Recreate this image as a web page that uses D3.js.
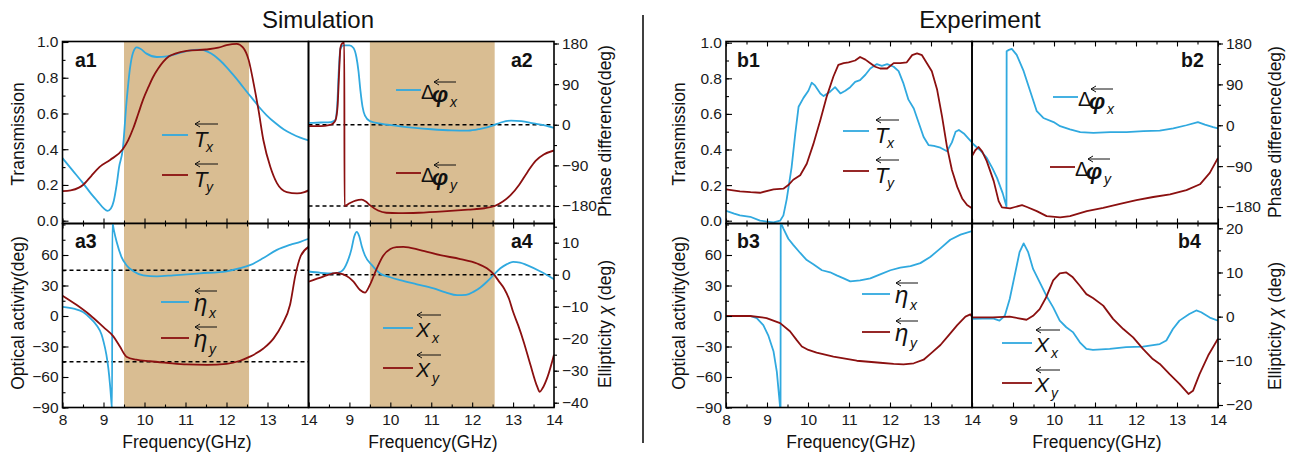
<!DOCTYPE html>
<html><head><meta charset="utf-8">
<script src="https://cdn.jsdelivr.net/npm/d3@7"></script>
<style>
body{margin:0;background:#fff}
svg{display:block}
text{font-family:Arial,"Liberation Sans",sans-serif}
</style>
</head><body>
<svg id="chart" width="1295" height="455"></svg>
<script>
// ---------------- DATA ----------------
const freqDomain = [8, 14];
const freqTicksLeft = [8, 9, 10, 11, 12, 13, 14];
const freqTicksRight = [9, 10, 11, 12, 13, 14];
const shadeBand = [9.5, 12.55];

const transTicks = [0, 0.2, 0.4, 0.6, 0.8, 1.0];
const phaseTicks = [-180, -90, 0, 90, 180];
const activityTicks = [-90, -60, -30, 0, 30, 60];
const ellipSimTicks = [-40, -30, -20, -10, 0, 10];
const ellipExpTicks = [-20, -10, 0, 10, 20];

const phaseRefLines = [0, -180];
const activityRefLines = [45, -45];
const ellipRefLines = [0];

// Simulation a1 : transmission
const a1Tx = [[8,0.35],[8.25,0.28],[8.5,0.21],[8.7,0.15],[8.85,0.11],[9.0,0.07],[9.1,0.055],[9.18,0.068],[9.25,0.11],[9.32,0.2],[9.38,0.3],[9.47,0.40],[9.56,0.66],[9.65,0.86],[9.72,0.94],[9.81,0.97],[9.9,0.962],[10.05,0.935],[10.3,0.916],[10.55,0.92],[10.8,0.935],[11.05,0.95],[11.35,0.957],[11.55,0.945],[11.7,0.925],[11.85,0.895],[12.0,0.86],[12.15,0.82],[12.33,0.77],[12.5,0.72],[12.66,0.675],[12.8,0.635],[12.98,0.59],[13.2,0.545],[13.4,0.51],[13.6,0.485],[13.8,0.465],[14,0.45]];
const a1Ty = [[8,0.166],[8.2,0.17],[8.4,0.185],[8.5,0.2],[8.7,0.25],[8.9,0.3],[9.16,0.34],[9.47,0.40],[9.6,0.45],[9.73,0.52],[9.85,0.6],[9.97,0.68],[10.1,0.75],[10.2,0.8],[10.33,0.85],[10.46,0.89],[10.6,0.92],[10.75,0.935],[11.03,0.95],[11.5,0.958],[11.8,0.968],[12.0,0.982],[12.25,0.99],[12.4,0.97],[12.54,0.90],[12.66,0.77],[12.78,0.62],[12.9,0.45],[13.07,0.30],[13.23,0.21],[13.47,0.16],[13.72,0.153],[13.9,0.16],[14,0.17]];

// Simulation a2 : phase difference
const a2Px = [[8,4],[8.3,5],[8.55,6],[8.65,10],[8.7,40],[8.74,120],[8.78,168],[8.85,176],[9.0,176],[9.1,170],[9.17,150],[9.22,120],[9.27,75],[9.32,40],[9.38,20],[9.5,8],[9.8,2],[10.2,-3],[10.6,-7],[11.0,-10],[11.5,-12.5],[11.9,-13],[12.2,-9],[12.5,-2],[12.7,5],[12.95,9],[13.2,8],[13.5,3],[13.8,-2],[14,-7]];
const a2Py = [[8,-3],[8.3,-3],[8.5,-1],[8.6,3],[8.66,10],[8.71,40],[8.75,120],[8.78,170],[8.82,180],[8.875,182],[8.88,-180],[9.0,-174],[9.15,-168],[9.3,-166],[9.4,-170],[9.5,-178],[9.7,-190],[9.9,-195],[10.2,-196],[10.7,-195],[11.3,-192],[11.9,-188],[12.3,-185],[12.55,-180],[12.75,-170],[12.95,-155],[13.15,-133],[13.35,-105],[13.55,-80],[13.75,-66],[14,-57]];

// Simulation a3 : optical activity
const a3Ex = [[8,9],[8.3,7],[8.5,4],[8.7,-3],[8.83,-9],[8.95,-18],[9.0,-25],[9.07,-38],[9.12,-52],[9.16,-68],[9.2,-88],[9.21,-92],[9.215,92],[9.25,85],[9.32,73],[9.44,58],[9.56,50],[9.73,44],[9.97,40],[10.3,39],[10.7,40],[11.35,42],[12.0,44],[12.33,47],[12.57,50],[12.9,57],[13.23,65],[13.55,70],[13.8,73],[14,76]];
const a3Ey = [[8,20],[8.34,11],[8.67,1],[9.0,-11],[9.24,-20],[9.4,-30],[9.56,-40],[9.8,-43],[10.13,-44.5],[10.54,-46],[11.03,-47.6],[11.52,-48],[12.0,-47],[12.33,-44],[12.57,-40],[12.9,-32],[13.15,-22],[13.35,-9],[13.55,11],[13.68,40],[13.8,58],[14,68]];

// Simulation a4 : ellipticity
const a4Xx = [[8,1],[8.3,0.6],[8.6,0.4],[8.8,1],[8.95,4],[9.05,8],[9.12,12],[9.18,13.4],[9.24,12],[9.3,9],[9.38,6],[9.55,3],[9.75,0.4],[10.0,-0.8],[10.24,-1.7],[10.65,-3],[11.06,-4.3],[11.35,-5.5],[11.63,-6.4],[11.85,-6.3],[12.04,-5.3],[12.2,-4],[12.36,-2.2],[12.53,0],[12.69,2],[12.85,3.3],[13.0,4],[13.17,3.8],[13.34,3],[13.67,1],[14,-1.4]];
const a4Xy = [[8,-2.2],[8.36,-0.6],[8.69,0.6],[8.85,0.1],[9.0,-1],[9.1,-2.2],[9.26,-4.8],[9.38,-5.6],[9.5,-3.2],[9.67,2],[9.83,6],[10.0,8],[10.15,8.6],[10.32,8.7],[10.73,7.7],[11.22,6.1],[11.71,4.9],[12.12,3.5],[12.36,2],[12.53,0.1],[12.65,-2],[12.78,-4.3],[12.9,-7.5],[13.0,-11.6],[13.13,-16],[13.26,-21],[13.42,-28],[13.59,-35],[13.65,-36.6],[13.72,-35.5],[13.84,-32],[14,-25]];

// Experiment b1 : transmission
const b1Tx = [[8.0,0.056],[8.2,0.04],[8.34,0.03],[8.59,0.022],[8.83,0.0],[9.0,-0.005],[9.16,-0.01],[9.32,0.0],[9.4,0.03],[9.48,0.12],[9.6,0.30],[9.69,0.49],[9.77,0.64],[9.89,0.69],[10.01,0.73],[10.09,0.775],[10.17,0.76],[10.3,0.715],[10.38,0.70],[10.54,0.725],[10.66,0.75],[10.79,0.715],[10.91,0.73],[11.03,0.75],[11.15,0.78],[11.27,0.79],[11.4,0.82],[11.52,0.855],[11.68,0.88],[11.8,0.87],[11.93,0.88],[12.09,0.865],[12.21,0.84],[12.33,0.77],[12.45,0.68],[12.58,0.63],[12.7,0.55],[12.82,0.47],[12.94,0.425],[13.07,0.42],[13.23,0.41],[13.39,0.39],[13.51,0.44],[13.6,0.5],[13.68,0.51],[13.8,0.49],[13.92,0.46],[14.0,0.44]];
const b1Ty = [[8.0,0.176],[8.34,0.165],[8.6,0.16],[8.83,0.157],[9.16,0.176],[9.4,0.18],[9.52,0.2],[9.64,0.23],[9.81,0.255],[9.97,0.32],[10.13,0.43],[10.3,0.565],[10.46,0.70],[10.62,0.81],[10.74,0.875],[10.87,0.885],[10.99,0.89],[11.15,0.90],[11.27,0.92],[11.4,0.905],[11.52,0.885],[11.64,0.865],[11.76,0.855],[11.93,0.855],[12.09,0.885],[12.25,0.885],[12.41,0.89],[12.54,0.93],[12.66,0.94],[12.78,0.93],[12.9,0.885],[13.02,0.84],[13.15,0.735],[13.27,0.585],[13.39,0.415],[13.51,0.285],[13.64,0.19],[13.76,0.125],[13.88,0.088],[14.0,0.07]];

// Experiment b2 : phase difference
const b2Px = [[8,-39],[8.2,-55],[8.36,-72],[8.5,-95],[8.61,-116],[8.75,-150],[8.84,-179],[8.845,163],[8.9,166],[8.97,168],[9.09,155],[9.26,119],[9.42,75],[9.58,31],[9.74,16],[9.99,7],[10.15,-2],[10.39,-9],[10.64,-15],[10.96,-17],[11.37,-15],[11.77,-15],[12.18,-13],[12.58,-12],[12.91,-7],[13.23,0],[13.51,7],[13.68,1.5],[13.88,-4],[14,-7]];
const b2Py = [[8,-68],[8.08,-55],[8.16,-48],[8.25,-58],[8.36,-79],[8.53,-123],[8.65,-167],[8.73,-181],[8.93,-183],[9.05,-180],[9.22,-176],[9.34,-180],[9.58,-189],[9.82,-200],[10.15,-203],[10.39,-200],[10.8,-189],[11.2,-182],[11.61,-173],[12.01,-165],[12.42,-158],[12.83,-152],[13.23,-143],[13.56,-130],[13.8,-105],[14,-72]];

// Experiment b3 : optical activity
const b3Ex = [[8.0,0],[8.59,0],[8.75,-2],[8.91,-9],[9.03,-19],[9.16,-35],[9.24,-55],[9.32,-90],[9.33,-92],[9.335,92],[9.4,86],[9.52,76],[9.64,70],[9.81,62],[9.97,55],[10.13,51],[10.34,45],[10.54,43],[10.7,40],[10.87,37],[11.03,34],[11.27,35],[11.52,37],[11.76,41],[12.01,45],[12.25,47.5],[12.5,49],[12.74,52],[12.98,58],[13.23,66.5],[13.47,75],[13.72,80],[14.0,83.5]];
const b3Ey = [[8.0,0],[8.59,0],[8.99,-2],[9.32,-7],[9.56,-15],[9.73,-24],[9.85,-30],[10.01,-33.4],[10.21,-36],[10.62,-40],[11.19,-44],[11.76,-46],[12.09,-47],[12.33,-47.5],[12.58,-46.5],[12.82,-43],[13.02,-36],[13.23,-28.5],[13.43,-19],[13.64,-9],[13.84,-0.6],[13.96,1.6],[14.0,-0.6]];

// Experiment b4 : ellipticity
const b4Xx = [[8.0,-0.5],[8.51,-0.4],[8.67,-0.9],[8.8,0.2],[8.92,4],[9.04,9.3],[9.16,14.6],[9.26,16.6],[9.37,14.6],[9.49,10.8],[9.65,7.8],[9.81,4.8],[9.98,2.1],[10.14,-0.9],[10.3,-2.4],[10.46,-3.5],[10.63,-5.8],[10.79,-7.3],[10.95,-7.5],[11.36,-7.3],[11.76,-6.9],[12.17,-6.8],[12.58,-6.2],[12.74,-5.4],[12.9,-2.8],[13.06,-0.9],[13.3,0.6],[13.47,1.4],[13.59,1],[13.8,-0.2],[14.0,-0.9]];
const b4Xy = [[8.0,-0.15],[8.51,-0.15],[8.92,0],[9.33,-0.7],[9.49,0.2],[9.65,1.7],[9.81,4.4],[9.98,8.2],[10.14,9.8],[10.3,10],[10.46,8.9],[10.63,7],[10.79,5.1],[10.95,4.2],[11.2,2.5],[11.44,-0.5],[11.69,-2.8],[11.93,-4.7],[12.17,-7.3],[12.41,-9.6],[12.58,-10.7],[12.82,-13],[13.06,-15.2],[13.28,-17.5],[13.39,-16.8],[13.55,-13],[13.76,-8.8],[14.0,-5]];

// ---------------- STYLE / LAYOUT ----------------
const BLUE = '#30a9df', RED = '#8b1010', SHADE = '#d9bd92';
const yT = 41.5, yM = 223.5, yB = 407.5;
const blocks = {
  sim: {xL: 62.5, xM: 308.5, xR: 554},
  exp: {xL: 726, xM: 972, xR: 1218}
};

const svg = d3.select('#chart');

const panels = [
  {id:'a1', block:'sim', col:0, row:0, yDom:[0,1], yRng:[220.7,42], yTicks:transTicks, yMinor:d3.range(0,1.01,0.1), fmt:d3.format('.1f'),
   series:[[a1Tx,BLUE],[a1Ty,RED]], refs:[], shade:true, label:[75,67]},
  {id:'a2', block:'sim', col:1, row:0, yDom:[-180,180], yRng:[206,43.5], yTicks:phaseTicks, yMinor:d3.range(-180,181,45), fmt:d3.format('d'),
   series:[[a2Px,BLUE],[a2Py,RED]], refs:phaseRefLines, shade:true, label:[511,67]},
  {id:'a3', block:'sim', col:0, row:1, yDom:[-90,90], yRng:[407.5,224.5], yTicks:activityTicks, yMinor:d3.range(-90,91,15), fmt:d3.format('d'),
   series:[[a3Ex,BLUE],[a3Ey,RED]], refs:activityRefLines, shade:true, label:[75,248]},
  {id:'a4', block:'sim', col:1, row:1, yDom:[-40,10], yRng:[402.7,242.7], yTicks:ellipSimTicks, yMinor:d3.range(-40,16,5), fmt:d3.format('d'),
   series:[[a4Xx,BLUE],[a4Xy,RED]], refs:ellipRefLines, shade:true, label:[511,248]},
  {id:'b1', block:'exp', col:0, row:0, yDom:[0,1], yRng:[220.7,42.7], yTicks:transTicks, yMinor:d3.range(0,1.01,0.1), fmt:d3.format('.1f'),
   series:[[b1Tx,BLUE],[b1Ty,RED]], refs:[], shade:false, label:[737,67]},
  {id:'b2', block:'exp', col:1, row:0, yDom:[-180,180], yRng:[207,43.5], yTicks:phaseTicks, yMinor:d3.range(-180,181,45), fmt:d3.format('d'),
   series:[[b2Px,BLUE],[b2Py,RED]], refs:[], shade:false, label:[1181,67]},
  {id:'b3', block:'exp', col:0, row:1, yDom:[-90,90], yRng:[407.5,224.5], yTicks:activityTicks, yMinor:d3.range(-90,91,15), fmt:d3.format('d'),
   series:[[b3Ex,BLUE],[b3Ey,RED]], refs:[], shade:false, label:[737,248]},
  {id:'b4', block:'exp', col:1, row:1, yDom:[-20,20], yRng:[405,228.3], yTicks:ellipExpTicks, yMinor:d3.range(-20,21,5), fmt:d3.format('d'),
   series:[[b4Xx,BLUE],[b4Xy,RED]], refs:[], shade:false, label:[1178,248]}
];

panels.forEach(p => {
  const b = blocks[p.block];
  const x0 = p.col === 0 ? b.xL : b.xM, x1 = p.col === 0 ? b.xM : b.xR;
  const y0 = p.row === 0 ? yT : yM, y1 = p.row === 0 ? yM : yB;
  const x = d3.scaleLinear().domain(freqDomain).range([x0, x1]);
  const y = d3.scaleLinear().domain(p.yDom).range(p.yRng);
  const g = svg.append('g');
  const clipId = 'clip-' + p.id;
  svg.append('clipPath').attr('id', clipId).append('rect')
    .attr('x', x0).attr('y', y0).attr('width', x1 - x0).attr('height', y1 - y0);
  const plot = g.append('g').attr('clip-path', `url(#${clipId})`);
  if (p.shade) {
    plot.append('rect').attr('x', x(shadeBand[0])).attr('y', y0)
      .attr('width', x(shadeBand[1]) - x(shadeBand[0])).attr('height', y1 - y0).attr('fill', SHADE);
  }
  p.refs.forEach(v => {
    plot.append('line').attr('x1', x0).attr('x2', x1).attr('y1', y(v)).attr('y2', y(v))
      .attr('stroke', '#000').attr('stroke-width', 1.4).attr('stroke-dasharray', '4,3');
  });
  const line = d3.line().x(d => x(d[0])).y(d => y(d[1]))
    .curve(p.block === 'sim' ? d3.curveMonotoneX : d3.curveLinear);
  p.series.forEach(([data, color]) => {
    plot.append('path').datum(data).attr('d', line).attr('fill', 'none')
      .attr('stroke', color).attr('stroke-width', 1.8).attr('stroke-linejoin', 'round');
  });

  // x ticks at bottom (inward)
  const xMajor = d3.range(8, 14.01, 1), xMinor = d3.range(8.5, 14, 1);
  const xLabels = p.row === 1 ? (p.col === 0 ? freqTicksLeft : freqTicksRight) : [];
  g.append('g').attr('transform', `translate(0,${y1})`)
    .call(d3.axisBottom(x).tickValues(xMajor).tickSize(-5).tickPadding(6)
      .tickFormat(d => xLabels.includes(d) ? d : ''));
  g.append('g').attr('transform', `translate(0,${y1})`)
    .call(d3.axisBottom(x).tickValues(xMinor).tickSize(-3).tickFormat(''));
  if (p.row === 1 || p.block === 'exp') {
    g.append('g').attr('transform', `translate(0,${y0})`)
      .call(d3.axisTop(x).tickValues(xMajor).tickSize(-5).tickFormat(''));
    g.append('g').attr('transform', `translate(0,${y0})`)
      .call(d3.axisTop(x).tickValues(xMinor).tickSize(-3).tickFormat(''));
  }
  // y axis
  if (p.col === 0) {
    g.append('g').attr('transform', `translate(${x0},0)`)
      .call(d3.axisLeft(y).tickValues(p.yTicks).tickSize(-6).tickPadding(4).tickFormat(p.fmt));
    g.append('g').attr('transform', `translate(${x0},0)`)
      .call(d3.axisLeft(y).tickValues(p.yMinor).tickSize(-3).tickFormat(''));
  } else {
    g.append('g').attr('transform', `translate(${x1},0)`)
      .call(d3.axisRight(y).tickValues(p.yTicks).tickSize(5).tickPadding(3).tickFormat(p.fmt));
    g.append('g').attr('transform', `translate(${x1},0)`)
      .call(d3.axisRight(y).tickValues(p.yMinor).tickSize(3).tickFormat(''));
  }
  g.append('rect').attr('x', x0).attr('y', y0).attr('width', x1 - x0).attr('height', y1 - y0)
    .attr('fill', 'none').attr('stroke', '#000').attr('stroke-width', 1.6);
  g.append('text').attr('x', p.label[0]).attr('y', p.label[1]).text(p.id)
    .attr('font-size', 19.5).attr('font-weight', 'bold').attr('fill', '#111');
});

svg.selectAll('.domain').remove();
svg.selectAll('.tick line').attr('stroke', '#000').attr('stroke-width', 1.1);
svg.selectAll('.tick text').attr('font-size', 15.5).attr('fill', '#1a1a1a')
  .attr('font-family', 'Arial, "Liberation Sans", sans-serif');

// ---------------- LEGENDS ----------------
const SERIF = '"Liberation Serif","Times New Roman",serif';
function arrow(x0, x1, yy) {
  svg.append('path').attr('d', `M${x1},${yy}H${x0}M${x0},${yy}l5,-3M${x0},${yy}l5,3`)
    .attr('stroke', '#111').attr('stroke-width', 1).attr('fill', 'none');
}
function legendItem(lx, ly, color, kind, sub) {
  const len = {T:26, phi:25, eta:28, chi:30}[kind];
  svg.append('line').attr('x1', lx).attr('x2', lx + len).attr('y1', ly).attr('y2', ly)
    .attr('stroke', color).attr('stroke-width', 1.8);
  if (kind === 'T') {
    svg.append('text').attr('x', lx + 32).attr('y', ly + 12).text('T')
      .attr('font-family', SERIF).attr('font-style', 'italic').attr('font-size', 22).attr('fill', '#111');
    arrow(lx + 33, lx + 56, ly - 11);
    svg.append('text').attr('x', lx + 44).attr('y', ly + 17).text(sub)
      .attr('font-family', SERIF).attr('font-style', 'italic').attr('font-size', 14).attr('fill', '#111');
  } else if (kind === 'phi') {
    svg.append('text').attr('x', lx + 25).attr('y', ly + 9).text('Δ')
      .attr('font-family', SERIF).attr('font-size', 20).attr('fill', '#111');
    svg.append('text').attr('x', lx + 36).attr('y', ly + 12).text('φ')
      .attr('font-family', SERIF).attr('font-style', 'italic').attr('font-weight', 'bold').attr('font-size', 23).attr('fill', '#111');
    arrow(lx + 38, lx + 60, ly - 8);
    svg.append('text').attr('x', lx + 54).attr('y', ly + 17).text(sub)
      .attr('font-family', SERIF).attr('font-style', 'italic').attr('font-size', 14).attr('fill', '#111');
  } else if (kind === 'eta') {
    svg.append('text').attr('x', lx + 33).attr('y', ly + 9).text('η')
      .attr('font-style', 'italic').attr('font-size', 24).attr('fill', '#111');
    arrow(lx + 34, lx + 56, ly - 11);
    svg.append('text').attr('x', lx + 48).attr('y', ly + 16).text(sub)
      .attr('font-family', SERIF).attr('font-style', 'italic').attr('font-size', 14).attr('fill', '#111');
  } else {
    svg.append('text').attr('x', lx + 33).attr('y', ly + 9).text('X')
      .attr('font-style', 'italic').attr('font-size', 21).attr('fill', '#111');
    arrow(lx + 34, lx + 58, ly - 13);
    svg.append('text').attr('x', lx + 49).attr('y', ly + 15).text(sub)
      .attr('font-family', SERIF).attr('font-style', 'italic').attr('font-size', 14).attr('fill', '#111');
  }
}
legendItem(162, 135, BLUE, 'T', 'x');  legendItem(162, 175, RED, 'T', 'y');
legendItem(396, 90, BLUE, 'phi', 'x'); legendItem(396, 173, RED, 'phi', 'y');
legendItem(161, 302, BLUE, 'eta', 'x'); legendItem(161, 338, RED, 'eta', 'y');
legendItem(383, 328, BLUE, 'chi', 'x'); legendItem(383, 368, RED, 'chi', 'y');
legendItem(843, 131, BLUE, 'T', 'x');  legendItem(843, 171, RED, 'T', 'y');
legendItem(1053, 97, BLUE, 'phi', 'x'); legendItem(1050, 167, RED, 'phi', 'y');
legendItem(862, 294, BLUE, 'eta', 'x'); legendItem(862, 332, RED, 'eta', 'y');
legendItem(1002, 343, BLUE, 'chi', 'x'); legendItem(1002, 383, RED, 'chi', 'y');

// ---------------- TITLES ----------------
function txt(x, y, size, rot) {
  const t = svg.append('text').attr('font-size', size).attr('fill', '#111')
    .attr('text-anchor', 'middle');
  if (rot) t.attr('transform', `translate(${x},${y}) rotate(-90)`);
  else t.attr('x', x).attr('y', y);
  return t;
}
txt(318, 28, 24).text('Simulation');
txt(980, 28, 24).text('Experiment');
txt(187, 448, 17.5).text('Frequency(GHz)');
txt(433, 448, 17.5).text('Frequency(GHz)');
txt(851, 448, 17.5).text('Frequency(GHz)');
txt(1097, 448, 17.5).text('Frequency(GHz)');
txt(23.5, 134, 17.5, true).text('Transmission');
txt(23.5, 313, 17.5, true).text('Optical activity(deg)');
txt(684.5, 134, 17.5, true).text('Transmission');
txt(684.5, 313, 17.5, true).text('Optical activity(deg)');
txt(611, 131, 17.5, true).text('Phase difference(deg)');
txt(1281, 132, 17.5, true).text('Phase difference(deg)');
function ellipTitle(x, y) {
  const t = txt(x, y, 17.5, true);
  t.append('tspan').text('Ellipticity ');
  t.append('tspan').text('χ').attr('font-style', 'italic');
  t.append('tspan').text(' (deg)');
}
ellipTitle(611, 324);
ellipTitle(1281, 326);

// separator
svg.append('line').attr('x1', 643).attr('x2', 643).attr('y1', 15).attr('y2', 443)
  .attr('stroke', '#000').attr('stroke-width', 1.5);
</script>
</body></html>
